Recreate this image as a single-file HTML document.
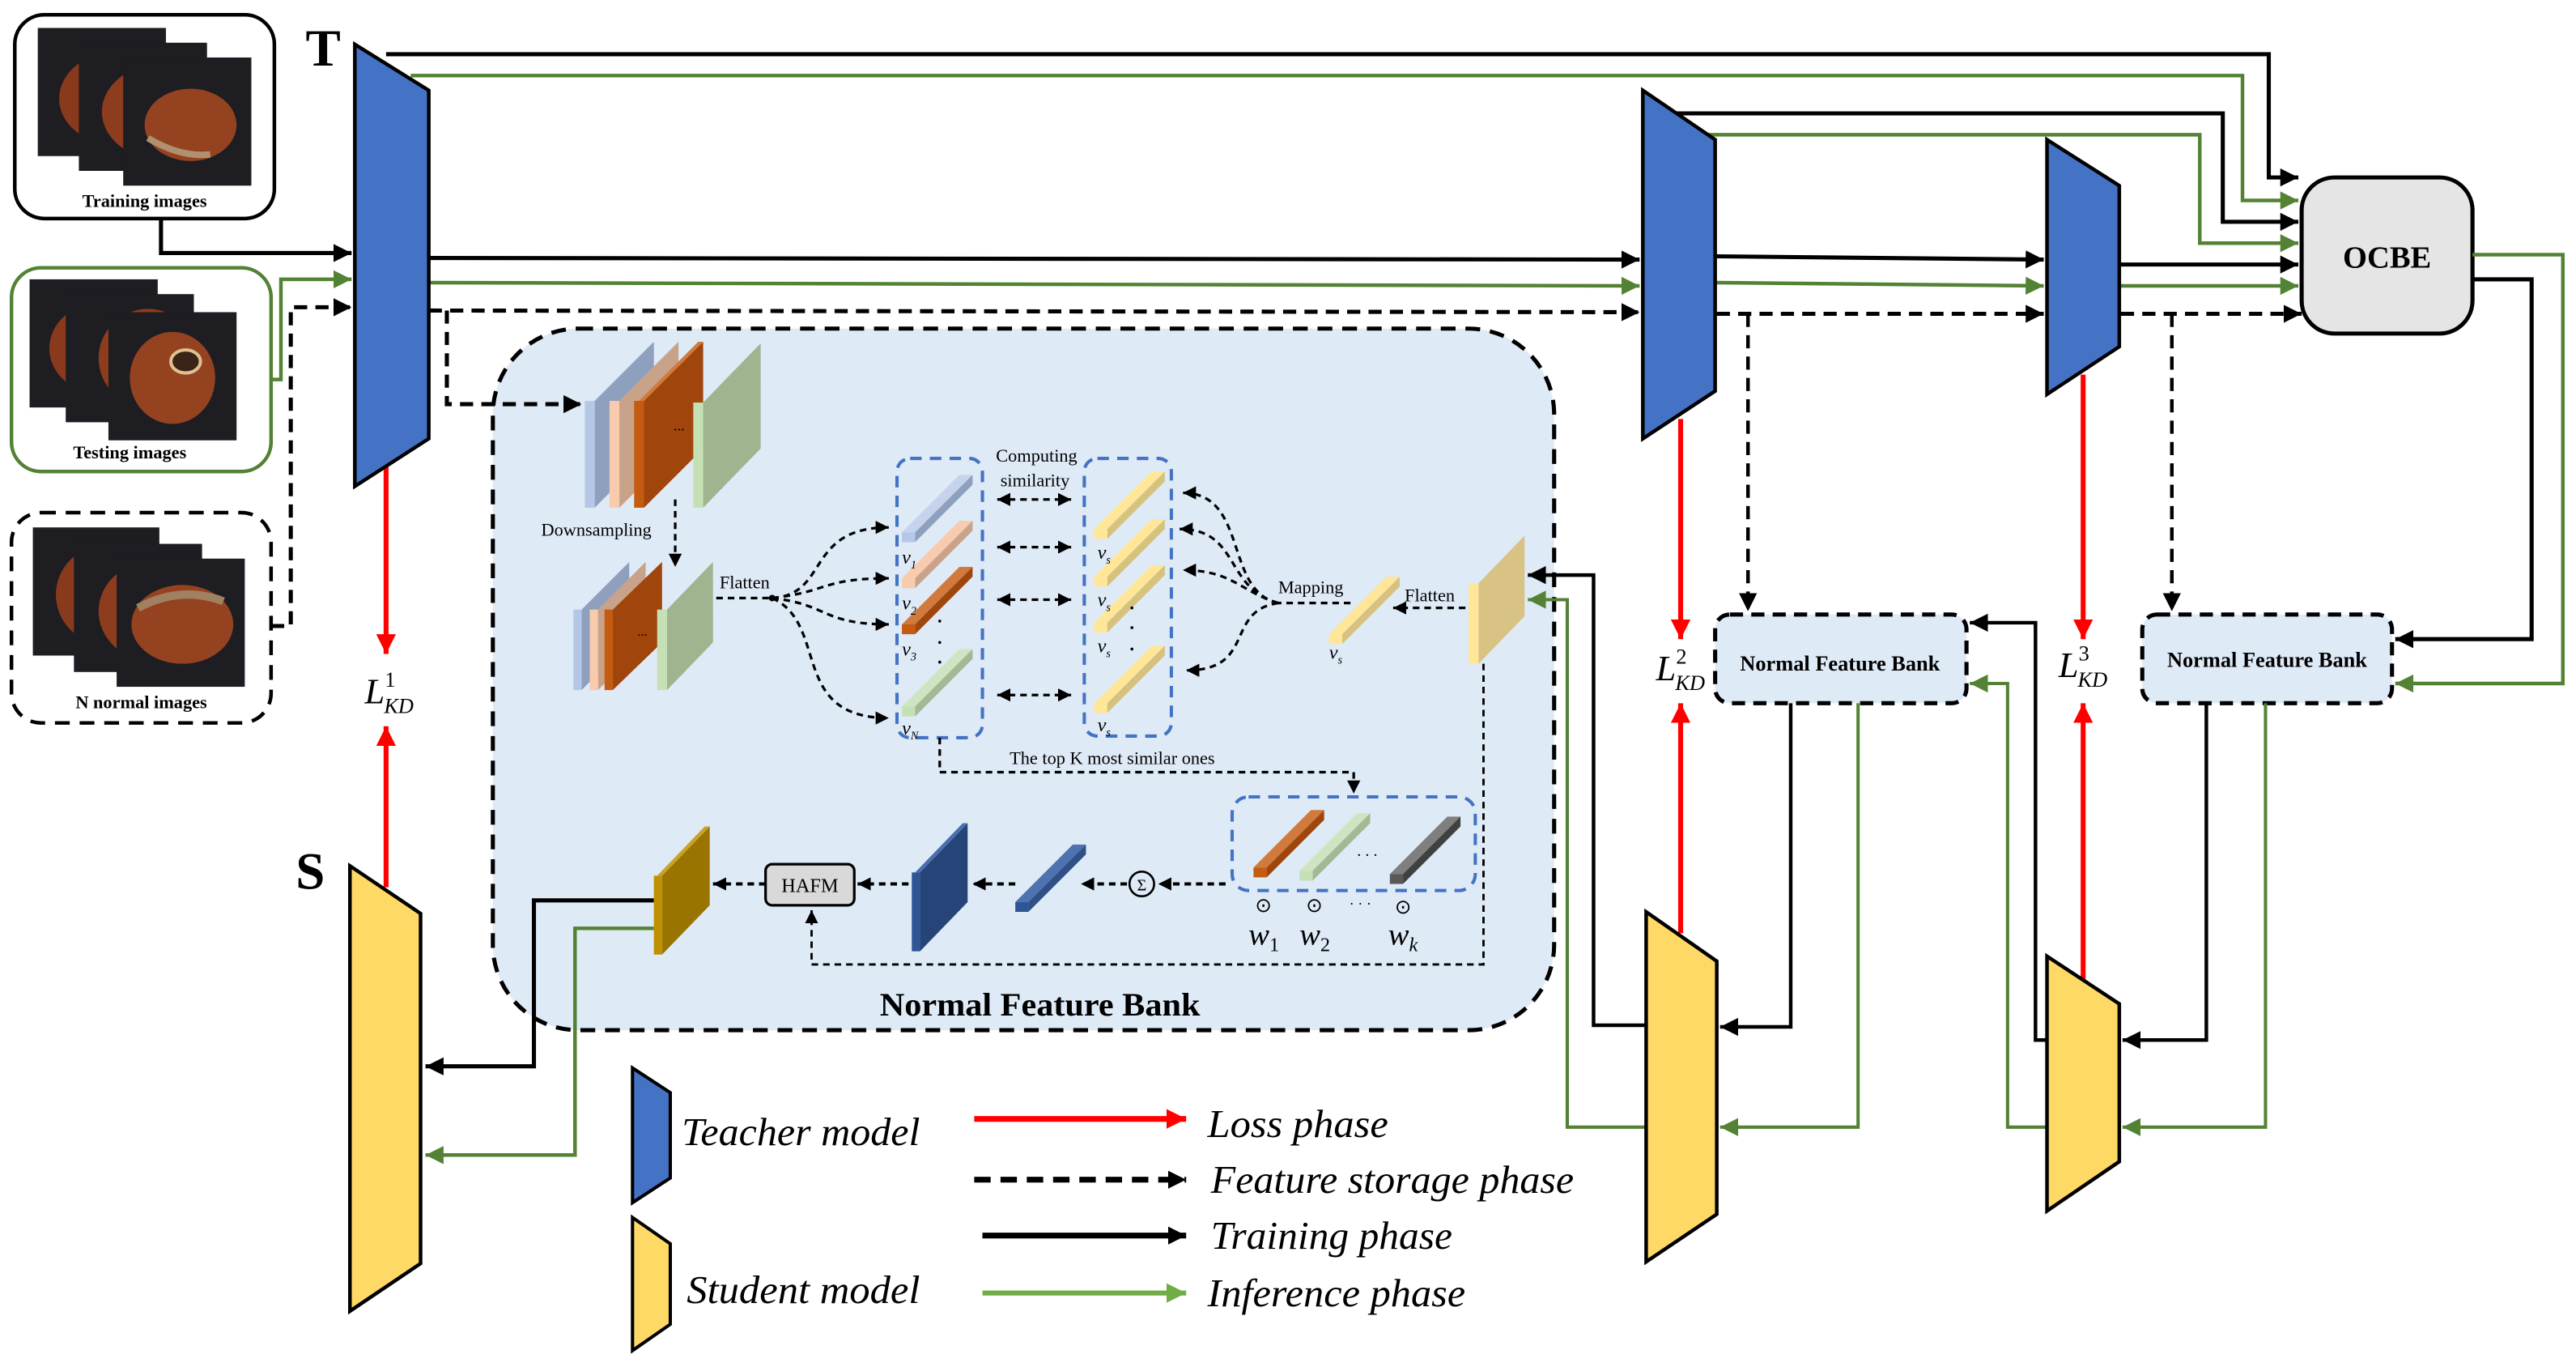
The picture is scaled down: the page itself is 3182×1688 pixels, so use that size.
<!DOCTYPE html>
<html><head><meta charset="utf-8"><style>
html,body{margin:0;padding:0;background:#fff}
svg{display:block}
svg text{font-family:"Liberation Serif","Times New Roman",serif !important}
</style></head><body>
<svg width="3182" height="1688" viewBox="0 0 1568 832" preserveAspectRatio="none" xmlns="http://www.w3.org/2000/svg" font-family="Liberation Serif, serif">
<defs>
<marker id="ak" viewBox="0 0 10 10" refX="10" refY="5" markerWidth="11" markerHeight="11" markerUnits="userSpaceOnUse" orient="auto"><path d="M0,0L10,5L0,10z" fill="#000"/></marker>
<marker id="aks" viewBox="0 0 10 10" refX="10" refY="5" markerWidth="8" markerHeight="8" markerUnits="userSpaceOnUse" orient="auto"><path d="M0,0L10,5L0,10z" fill="#000"/></marker>
<marker id="aksr" viewBox="0 0 10 10" refX="0" refY="5" markerWidth="8" markerHeight="8" markerUnits="userSpaceOnUse" orient="auto"><path d="M10,0L0,5L10,10z" fill="#000"/></marker>
<marker id="ag" viewBox="0 0 10 10" refX="10" refY="5" markerWidth="11" markerHeight="11" markerUnits="userSpaceOnUse" orient="auto"><path d="M0,0L10,5L0,10z" fill="#548235"/></marker>
<marker id="ar" viewBox="0 0 10 10" refX="10" refY="5" markerWidth="12" markerHeight="12" markerUnits="userSpaceOnUse" orient="auto"><path d="M0,0L10,5L0,10z" fill="#f00"/></marker>
<marker id="agl" viewBox="0 0 10 10" refX="10" refY="5" markerWidth="12" markerHeight="12" markerUnits="userSpaceOnUse" orient="auto"><path d="M0,0L10,5L0,10z" fill="#70ad47"/></marker>
</defs>

<!-- input image boxes -->
<rect x="9" y="9" width="158" height="124" rx="18" fill="#fff" stroke="#000" stroke-width="2.2"/>
<g>
<rect x="23" y="17" width="78" height="78" fill="#1d1d22"/><ellipse cx="70" cy="60" rx="34" ry="28" fill="#8a3a1c"/>
<rect x="48" y="26" width="78" height="78" fill="#1d1d22"/><ellipse cx="98" cy="68" rx="36" ry="29" fill="#8d3c1d"/>
<rect x="75" y="35" width="78" height="78" fill="#1d1d22"/><ellipse cx="116" cy="76" rx="28" ry="22" fill="#94421f"/><path d="M90,84 Q110,96 128,94" stroke="#b09070" stroke-width="4" fill="none"/>
</g>
<text x="88" y="126" font-size="11" font-weight="bold" text-anchor="middle">Training images</text>

<rect x="7" y="163" width="158" height="124" rx="18" fill="#fff" stroke="#548235" stroke-width="2.2"/>
<rect x="18" y="170" width="78" height="78" fill="#1d1d22"/><ellipse cx="62" cy="212" rx="32" ry="28" fill="#8a3a1c"/>
<rect x="40" y="179" width="78" height="78" fill="#1d1d22"/><ellipse cx="90" cy="218" rx="30" ry="30" fill="#8d3c1d"/>
<rect x="66" y="190" width="78" height="78" fill="#1d1d22"/><ellipse cx="105" cy="230" rx="26" ry="28" fill="#94421f"/><ellipse cx="113" cy="220" rx="9" ry="7" fill="#3a2418" stroke="#e0c090" stroke-width="2"/>
<text x="79" y="279" font-size="11" font-weight="bold" text-anchor="middle">Testing images</text>

<rect x="7" y="312" width="158" height="128" rx="18" fill="#fff" stroke="#000" stroke-width="2.2" stroke-dasharray="9,6"/>
<rect x="20" y="321" width="77" height="78" fill="#1d1d22"/><ellipse cx="64" cy="362" rx="30" ry="30" fill="#8a3a1c"/>
<rect x="45" y="331" width="78" height="78" fill="#1d1d22"/><ellipse cx="92" cy="372" rx="32" ry="30" fill="#8d3c1d"/>
<rect x="71" y="340" width="78" height="78" fill="#1d1d22"/><ellipse cx="111" cy="380" rx="31" ry="24" fill="#94421f"/><path d="M84,370 Q110,356 136,366" stroke="#a08060" stroke-width="5" fill="none"/>
<text x="86" y="431" font-size="11" font-weight="bold" text-anchor="middle">N normal images</text>

<text x="186" y="40" font-size="32" font-weight="bold">T</text>
<text x="180" y="541" font-size="32" font-weight="bold">S</text>

<polyline points="98,133 98,154 214,154" fill="none" stroke="#000" stroke-width="2.5" marker-end="url(#ak)"/>
<polyline points="165,231 171,231 171,170 214,170" fill="none" stroke="#548235" stroke-width="2.2" marker-end="url(#ag)"/>
<polyline points="165,381 177,381 177,187 214,187" fill="none" stroke="#000" stroke-width="2.5" stroke-dasharray="8,5" marker-end="url(#ak)"/>

<rect x="300" y="200" width="646" height="427" rx="52" fill="#deeaf6" stroke="#000" stroke-width="2.5" stroke-dasharray="9,6"/>
<text x="633" y="618" font-size="20" font-weight="bold" text-anchor="middle" textLength="195" lengthAdjust="spacingAndGlyphs">Normal Feature Bank</text>

<polyline points="235,33 1381,33 1381,108 1399,108" fill="none" stroke="#000" stroke-width="2.5" marker-end="url(#ak)"/>
<polyline points="250,46 1365,46 1365,122 1399,122" fill="none" stroke="#548235" stroke-width="2.2" marker-end="url(#ag)"/>
<polyline points="261,157 998,158" fill="none" stroke="#000" stroke-width="2.5" marker-end="url(#ak)"/>
<polyline points="261,172 998,174" fill="none" stroke="#548235" stroke-width="2.2" marker-end="url(#ag)"/>
<polyline points="261,189 998,190" fill="none" stroke="#000" stroke-width="2.5" stroke-dasharray="8,5" marker-end="url(#ak)"/>
<polyline points="272,189 272,246 354,246" fill="none" stroke="#000" stroke-width="2.5" stroke-dasharray="8,5" marker-end="url(#ak)"/>

<polyline points="1020,69 1353,69 1353,135 1399,135" fill="none" stroke="#000" stroke-width="2.5" marker-end="url(#ak)"/>
<polyline points="1040,82 1339,82 1339,148 1399,148" fill="none" stroke="#548235" stroke-width="2.2" marker-end="url(#ag)"/>
<polyline points="1045,156 1244,158" fill="none" stroke="#000" stroke-width="2.5" marker-end="url(#ak)"/>
<polyline points="1045,172 1244,174" fill="none" stroke="#548235" stroke-width="2.2" marker-end="url(#ag)"/>
<polyline points="1045,191 1244,191" fill="none" stroke="#000" stroke-width="2.5" stroke-dasharray="8,5" marker-end="url(#ak)"/>
<polyline points="1064,191 1064,372" fill="none" stroke="#000" stroke-width="2.2" stroke-dasharray="8,5" marker-end="url(#ak)"/>
<polyline points="1291,161 1399,161" fill="none" stroke="#000" stroke-width="2.5" marker-end="url(#ak)"/>
<polyline points="1291,174 1399,174" fill="none" stroke="#548235" stroke-width="2.2" marker-end="url(#ag)"/>
<polyline points="1291,191 1401,191" fill="none" stroke="#000" stroke-width="2.5" stroke-dasharray="8,5" marker-end="url(#ak)"/>
<polyline points="1322,191 1322,372" fill="none" stroke="#000" stroke-width="2.2" stroke-dasharray="8,5" marker-end="url(#ak)"/>

<rect x="1401" y="108" width="104" height="95" rx="20" fill="#e5e5e5" stroke="#000" stroke-width="2.5"/>
<text x="1453" y="163" font-size="19" font-weight="bold" text-anchor="middle">OCBE</text>
<polyline points="1505,170 1541,170 1541,389 1458,389" fill="none" stroke="#000" stroke-width="2.5" marker-end="url(#ak)"/>
<polyline points="1505,155 1560,155 1560,416 1458,416" fill="none" stroke="#548235" stroke-width="2.2" marker-end="url(#ag)"/>

<rect x="1044" y="374" width="153" height="54" rx="9" fill="#deeaf6" stroke="#000" stroke-width="2.5" stroke-dasharray="8,5"/>
<text x="1120" y="408" font-size="13" font-weight="bold" text-anchor="middle">Normal Feature Bank</text>
<rect x="1304" y="374" width="152" height="54" rx="9" fill="#deeaf6" stroke="#000" stroke-width="2.5" stroke-dasharray="8,5"/>
<text x="1380" y="406" font-size="13" font-weight="bold" text-anchor="middle">Normal Feature Bank</text>

<polyline points="1002,624 970,624 970,350 930,350" fill="none" stroke="#000" stroke-width="2.2" marker-end="url(#ak)"/>
<polyline points="1002,686 954,686 954,365 930,365" fill="none" stroke="#548235" stroke-width="2" marker-end="url(#ag)"/>
<polyline points="1090,428 1090,625 1047,625" fill="none" stroke="#000" stroke-width="2.2" marker-end="url(#ak)"/>
<polyline points="1131,428 1131,686 1047,686" fill="none" stroke="#548235" stroke-width="2" marker-end="url(#ag)"/>
<polyline points="1246,633 1239,633 1239,379 1199,379" fill="none" stroke="#000" stroke-width="2.2" marker-end="url(#ak)"/>
<polyline points="1246,686 1222,686 1222,416 1199,416" fill="none" stroke="#548235" stroke-width="2" marker-end="url(#ag)"/>
<polyline points="1343,428 1343,633 1292,633" fill="none" stroke="#000" stroke-width="2.2" marker-end="url(#ak)"/>
<polyline points="1379,428 1379,686 1292,686" fill="none" stroke="#548235" stroke-width="2" marker-end="url(#ag)"/>

<polyline points="398,548 325,548 325,649 259,649" fill="none" stroke="#000" stroke-width="2.5" marker-end="url(#ak)"/>
<polyline points="398,565 350,565 350,703 259,703" fill="none" stroke="#548235" stroke-width="2.2" marker-end="url(#ag)"/>

<line x1="235" y1="283" x2="235" y2="398" stroke="#f00" stroke-width="3" marker-end="url(#ar)"/>
<line x1="235" y1="540" x2="235" y2="442" stroke="#f00" stroke-width="3" marker-end="url(#ar)"/>
<line x1="1023" y1="255" x2="1023" y2="389" stroke="#f00" stroke-width="3" marker-end="url(#ar)"/>
<line x1="1023" y1="568" x2="1023" y2="428" stroke="#f00" stroke-width="3" marker-end="url(#ar)"/>
<line x1="1268" y1="228" x2="1268" y2="389" stroke="#f00" stroke-width="3" marker-end="url(#ar)"/>
<line x1="1268" y1="597" x2="1268" y2="428" stroke="#f00" stroke-width="3" marker-end="url(#ar)"/>
<text x="222" y="428" font-size="22" font-style="italic">L<tspan font-size="13" dy="-10" font-style="normal">1</tspan><tspan font-size="13" dy="16" dx="-7">KD</tspan></text>
<text x="1008" y="414" font-size="22" font-style="italic">L<tspan font-size="13" dy="-10" font-style="normal">2</tspan><tspan font-size="13" dy="16" dx="-7">KD</tspan></text>
<text x="1253" y="412" font-size="22" font-style="italic">L<tspan font-size="13" dy="-10" font-style="normal">3</tspan><tspan font-size="13" dy="16" dx="-7">KD</tspan></text>

<polygon points="216,27 261,55 261,267 216,296" fill="#4472c4" stroke="#000" stroke-width="2.2"/>
<polygon points="1000,55 1044,85 1044,238 1000,267" fill="#4472c4" stroke="#000" stroke-width="2.2"/>
<polygon points="1246,85 1290,113 1290,211 1246,240" fill="#4472c4" stroke="#000" stroke-width="2.2"/>
<polygon points="213,527 256,556 256,769 213,798" fill="#ffd966" stroke="#000" stroke-width="2.2"/>
<polygon points="1002,555 1045,585 1045,739 1002,768" fill="#ffd966" stroke="#000" stroke-width="2.2"/>
<polygon points="1246,582 1290,611 1290,707 1246,737" fill="#ffd966" stroke="#000" stroke-width="2.2"/>

<g>
<polygon points="362,244 398,208 398,273 362,309" fill="#8fa0bf"/><rect x="356" y="244" width="6" height="65" fill="#b4c7e7"/>
<polygon points="377,244 413,208 413,273 377,309" fill="#c9a28a"/><rect x="371" y="244" width="6" height="65" fill="#f8cbad"/>
<polygon points="392,244 428,208 428,273 392,309" fill="#a0450c"/><polygon points="392,244 428,208 425,208 389,244" fill="#d07a3e"/><rect x="386" y="244" width="6" height="65" fill="#c55a11"/>
<text x="410" y="262" font-size="9">...</text>
<polygon points="428,245 463,209 463,273 428,309" fill="#9fb48f"/><rect x="422" y="245" width="6" height="64" fill="#c5e0b4"/>
</g>
<text x="363" y="326" font-size="11" text-anchor="middle">Downsampling</text>
<line x1="411" y1="304" x2="411" y2="345" stroke="#000" stroke-width="1.6" stroke-dasharray="4,3" marker-end="url(#aks)"/>
<g>
<polygon points="354,371 383,342 383,391 354,420" fill="#8fa0bf"/><rect x="349" y="371" width="5" height="49" fill="#b4c7e7"/>
<polygon points="364,371 393,342 393,391 364,420" fill="#c9a28a"/><rect x="359" y="371" width="5" height="49" fill="#f8cbad"/>
<polygon points="373,371 403,342 403,391 373,420" fill="#a0450c"/><rect x="368" y="371" width="5" height="49" fill="#c55a11"/>
<text x="388" y="387" font-size="8">...</text>
<polygon points="406,371 434,342 434,391 406,420" fill="#9fb48f"/><rect x="400" y="371" width="6" height="49" fill="#c5e0b4"/>
</g>
<text x="438" y="358" font-size="11">Flatten</text>
<g fill="none" stroke="#000" stroke-width="1.6" stroke-dasharray="4,3">
<line x1="436" y1="364" x2="470" y2="364"/>
<path d="M470,364 C505,362 490,321 541,321" marker-end="url(#aks)"/>
<path d="M470,364 C505,360 500,352 541,352" marker-end="url(#aks)"/>
<path d="M470,364 C505,368 500,380 541,380" marker-end="url(#aks)"/>
<path d="M470,364 C505,380 480,437 541,437" marker-end="url(#aks)"/>
</g>
<circle cx="470" cy="364" r="2" fill="#000"/>

<rect x="546" y="279" width="52" height="170" rx="8" fill="none" stroke="#4472c4" stroke-width="2" stroke-dasharray="7,5"/>
<g>
<polygon points="549,324 584,289 592,289 557,324" fill="#c5d3ec"/><polygon points="557,324 592,289 592,295 557,330" fill="#8fa0bf"/><rect x="549" y="324" width="8" height="6" fill="#b4c7e7"/>
<polygon points="549,352 584,317 592,317 557,352" fill="#f8cbad"/><polygon points="557,352 592,317 592,323 557,358" fill="#c9a28a"/><rect x="549" y="352" width="8" height="6" fill="#f8cbad"/>
<polygon points="549,380 584,345 592,345 557,380" fill="#d07a3e"/><polygon points="557,380 592,345 592,351 557,386" fill="#a0450c"/><rect x="549" y="380" width="8" height="6" fill="#c55a11"/>
<polygon points="549,430 584,395 592,395 557,430" fill="#cfe5c1"/><polygon points="557,430 592,395 592,401 557,436" fill="#a3b894"/><rect x="549" y="430" width="8" height="6" fill="#c5e0b4"/>
</g>
<g font-size="12" font-style="italic"><text x="549" y="343">v<tspan font-size="7" dy="3">1</tspan></text><text x="549" y="371">v<tspan font-size="7" dy="3">2</tspan></text><text x="549" y="399">v<tspan font-size="7" dy="3">3</tspan></text><text x="549" y="447">v<tspan font-size="7" dy="3">N</tspan></text></g>
<g fill="#000"><circle cx="572" cy="378" r="0.9"/><circle cx="572" cy="391" r="0.9"/><circle cx="572" cy="403" r="0.9"/></g>

<g stroke="#000" stroke-width="1.6" stroke-dasharray="4,3" fill="none">
<line x1="607" y1="304" x2="652" y2="304" marker-start="url(#aksr)" marker-end="url(#aks)"/>
<line x1="607" y1="333" x2="652" y2="333" marker-start="url(#aksr)" marker-end="url(#aks)"/>
<line x1="607" y1="365" x2="652" y2="365" marker-start="url(#aksr)" marker-end="url(#aks)"/>
<line x1="607" y1="423" x2="652" y2="423" marker-start="url(#aksr)" marker-end="url(#aks)"/>
</g>
<text x="631" y="281" font-size="11" text-anchor="middle">Computing</text>
<text x="630" y="296" font-size="11" text-anchor="middle">similarity</text>

<rect x="660" y="279" width="53" height="169" rx="8" fill="none" stroke="#4472c4" stroke-width="2" stroke-dasharray="7,5"/>
<g>
<polygon points="666,322 701,287 709,287 674,322" fill="#ffe699"/><polygon points="674,322 709,287 709,293 674,328" fill="#d6c27e"/><rect x="666" y="322" width="8" height="6" fill="#ffe699"/>
<polygon points="666,351 701,316 709,316 674,351" fill="#ffe699"/><polygon points="674,351 709,316 709,322 674,357" fill="#d6c27e"/><rect x="666" y="351" width="8" height="6" fill="#ffe699"/>
<polygon points="666,379 701,344 709,344 674,379" fill="#ffe699"/><polygon points="674,379 709,344 709,350 674,385" fill="#d6c27e"/><rect x="666" y="379" width="8" height="6" fill="#ffe699"/>
<polygon points="666,428 701,393 709,393 674,428" fill="#ffe699"/><polygon points="674,428 709,393 709,399 674,434" fill="#d6c27e"/><rect x="666" y="428" width="8" height="6" fill="#ffe699"/>
</g>
<g font-size="12" font-style="italic"><text x="668" y="340">v<tspan font-size="7" dy="3">s</tspan></text><text x="668" y="369">v<tspan font-size="7" dy="3">s</tspan></text><text x="668" y="397">v<tspan font-size="7" dy="3">s</tspan></text><text x="668" y="445">v<tspan font-size="7" dy="3">s</tspan></text></g>
<g fill="#000"><circle cx="689" cy="370" r="0.9"/><circle cx="689" cy="382" r="0.9"/><circle cx="689" cy="395" r="0.9"/></g>

<g fill="none" stroke="#000" stroke-width="1.6" stroke-dasharray="4,3">
<line x1="822" y1="367" x2="778" y2="367"/>
<path d="M778,367 C745,360 760,300 720,300" marker-end="url(#aks)"/>
<path d="M778,367 C745,358 755,322 718,322" marker-end="url(#aks)"/>
<path d="M778,367 C755,360 750,347 720,347" marker-end="url(#aks)"/>
<path d="M778,367 C745,372 765,408 722,408" marker-end="url(#aks)"/>
<line x1="892" y1="370" x2="848" y2="370" marker-end="url(#aks)"/>
</g>
<text x="778" y="361" font-size="11">Mapping</text>
<text x="855" y="366" font-size="11">Flatten</text>
<polygon points="809,386 844,351 852,351 817,386" fill="#ffe699"/><polygon points="817,386 852,351 852,357 817,392" fill="#d6c27e"/><rect x="809" y="386" width="8" height="6" fill="#ffe699"/>
<text x="809" y="401" font-size="12" font-style="italic">v<tspan font-size="7" dy="3">s</tspan></text>
<polygon points="900,355 928,326 928,375 900,404" fill="#d9c384"/><rect x="894" y="355" width="6" height="49" fill="#ffe699"/>

<polyline points="572,449 572,470 824,470 824,483" fill="none" stroke="#000" stroke-width="1.6" stroke-dasharray="4,3" marker-end="url(#aks)"/>
<text x="677" y="465" font-size="11" text-anchor="middle">The top K most similar ones</text>

<rect x="750" y="485" width="148" height="57" rx="10" fill="none" stroke="#4472c4" stroke-width="2" stroke-dasharray="7,5"/>
<polygon points="763,528 798,493 806,493 771,528" fill="#d07a3e"/><polygon points="771,528 806,493 806,499 771,534" fill="#a0450c"/><rect x="763" y="528" width="8" height="6" fill="#c55a11"/>
<polygon points="791,530 826,495 834,495 799,530" fill="#cfe5c1"/><polygon points="799,530 834,495 834,501 799,536" fill="#a3b894"/><rect x="791" y="530" width="8" height="6" fill="#c5e0b4"/>
<text x="826" y="521" font-size="10">. . .</text>
<polygon points="846,532 881,497 889,497 854,532" fill="#7f7f7f"/><polygon points="854,532 889,497 889,503 854,538" fill="#404040"/><rect x="846" y="532" width="8" height="6" fill="#595959"/>
<g font-size="12" text-anchor="middle"><text x="769" y="555">⊙</text><text x="800" y="555">⊙</text><text x="828" y="553" font-size="9">· · ·</text><text x="854" y="556">⊙</text></g>
<g font-size="19" font-style="italic"><text x="760" y="575">w<tspan font-size="12" dy="4" font-style="normal">1</tspan></text><text x="791" y="575">w<tspan font-size="12" dy="4" font-style="normal">2</tspan></text><text x="845" y="575">w<tspan font-size="12" dy="4">k</tspan></text></g>

<polyline points="903,404 903,587 494,587 494,554" fill="none" stroke="#000" stroke-width="1.4" stroke-dasharray="4,3" marker-end="url(#aks)"/>
<g stroke="#000" stroke-width="2" stroke-dasharray="4,3" fill="none">
<line x1="746" y1="538" x2="705" y2="538" marker-end="url(#aks)"/>
<line x1="686" y1="538" x2="658" y2="538" marker-end="url(#aks)"/>
<line x1="618" y1="538" x2="592" y2="538" marker-end="url(#aks)"/>
<line x1="553" y1="538" x2="522" y2="538" marker-end="url(#aks)"/>
<line x1="466" y1="538" x2="434" y2="538" marker-end="url(#aks)"/>
</g>
<circle cx="695" cy="538" r="7.5" fill="#deeaf6" stroke="#000" stroke-width="1.3"/>
<text x="695" y="542" font-size="10" text-anchor="middle">Σ</text>
<polygon points="618,549 653,514 661,514 626,549" fill="#4f72b0"/><polygon points="626,549 661,514 661,520 626,555" fill="#2f4f87"/><rect x="618" y="549" width="8" height="6" fill="#2f5597"/>
<polygon points="560,531 589,501 589,549 560,579" fill="#264478"/><polygon points="560,531 589,501 586,501 557,531" fill="#4a6fb0"/><rect x="555" y="531" width="5" height="48" fill="#2f5597"/>
<rect x="466" y="526" width="54" height="25" rx="4" fill="#d9d9d9" stroke="#000" stroke-width="1.6"/>
<text x="493" y="543" font-size="12" text-anchor="middle">HAFM</text>
<polygon points="403,533 432,503 432,551 403,581" fill="#9a7400"/><polygon points="403,533 432,503 429,503 400,533" fill="#c9a227"/><rect x="398" y="533" width="5" height="48" fill="#bf9000"/>

<polygon points="385,650 408,665 408,717 385,732" fill="#4472c4" stroke="#000" stroke-width="2"/>
<polygon points="385,741 408,757 408,806 385,822" fill="#ffd966" stroke="#000" stroke-width="2"/>
<g font-size="24" font-style="italic">
<text x="415" y="697" textLength="145" lengthAdjust="spacingAndGlyphs">Teacher model</text>
<text x="418" y="793" textLength="142" lengthAdjust="spacingAndGlyphs">Student model</text>
<text x="735" y="692" textLength="110" lengthAdjust="spacingAndGlyphs">Loss phase</text>
<text x="737" y="726" textLength="221" lengthAdjust="spacingAndGlyphs">Feature storage phase</text>
<text x="737" y="760" textLength="147" lengthAdjust="spacingAndGlyphs">Training phase</text>
<text x="735" y="795" textLength="157" lengthAdjust="spacingAndGlyphs">Inference phase</text>
</g>
<line x1="593" y1="681" x2="722" y2="681" stroke="#f00" stroke-width="3.5" marker-end="url(#ar)"/>
<line x1="593" y1="718" x2="722" y2="718" stroke="#000" stroke-width="3.5" stroke-dasharray="10,6" marker-end="url(#ak)"/>
<line x1="598" y1="752" x2="722" y2="752" stroke="#000" stroke-width="3.5" marker-end="url(#ak)"/>
<line x1="598" y1="787" x2="722" y2="787" stroke="#70ad47" stroke-width="3" marker-end="url(#agl)"/>
</svg>
</body></html>
